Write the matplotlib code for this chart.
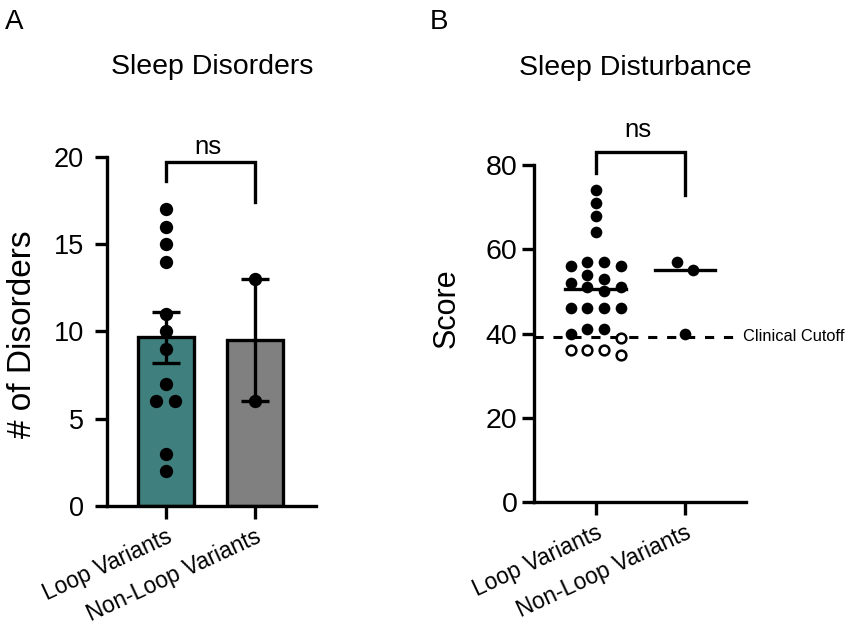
import numpy as np
import matplotlib
matplotlib.use("Agg")
import matplotlib.pyplot as plt

plt.rcParams['font.family'] = ['Liberation Sans', 'DejaVu Sans']

# data
groups = ["Loop Variants", "Non-Loop Variants"]
disorders_loop = [17, 16, 15, 14, 11, 10, 9, 7, 6, 6, 3, 2]
disorders_nonloop = [13, 6]
score_loop = [74, 71, 68, 64, 57, 57, 56, 56, 54, 53, 52, 51, 51, 50,
              46, 46, 46, 46, 41, 41, 40, 39, 36, 36, 36, 35]
score_nonloop = [57, 55, 40]
clinical_cutoff = 39.2

bar_colors = ["#3f807e", "#808080"]
LW = 2.4


def sem(v):
    v = np.asarray(v, float)
    return v.std(ddof=1) / np.sqrt(len(v))


def swarm(ax, vals, center, diam_px, col_px):
    # simple beeswarm in pixel space: lone points sit in the middle,
    # crowded ones go to columns either side
    fig = ax.figure
    bb = ax.get_position()
    w_px = bb.width * fig.get_figwidth() * fig.dpi
    h_px = bb.height * fig.get_figheight() * fig.dpi
    x0, x1 = ax.get_xlim()
    y0, y1 = ax.get_ylim()
    sx = w_px / (x1 - x0)
    sy = h_px / (y1 - y0)
    vals = np.asarray(vals, float)
    xs = np.zeros(len(vals))
    placed = []
    for i in np.argsort(-vals, kind="stable"):
        y = vals[i] * sy
        near = any(abs(vals[j] - vals[i]) * sy < diam_px
                   for j in range(len(vals)) if j != i)
        cands = ([] if near else [0.0]) + [-0.5, 0.5, -1.5, 1.5, -2.5, 2.5]
        for c in cands:
            x = c * col_px
            if all(np.hypot(x - px, y - py) >= diam_px for px, py in placed):
                break
        placed.append((x, y))
        xs[i] = center + x / sx
    return xs


def style_axes(ax, pad, fs):
    for s in ["top", "right"]:
        ax.spines[s].set_visible(False)
    for s in ["left", "bottom"]:
        ax.spines[s].set_linewidth(LW)
    ax.tick_params(axis="y", length=8.6, width=LW, pad=pad, labelsize=fs)
    ax.tick_params(axis="x", length=9, width=LW, pad=4.5)
    ax.set_xticks([0, 1])
    ax.set_xticklabels(groups, rotation=25, ha="right", va="top",
                       rotation_mode="anchor", fontsize=16.5)


def bracket(ax, y_top, y_left, y_right, y_text):
    ax.plot([0, 0, 1, 1], [y_left, y_top, y_top, y_right], color="black",
            lw=LW, clip_on=False, solid_joinstyle="miter")
    ax.text(0.47, y_text, "ns", ha="center", va="center", fontsize=18.5)


fig = plt.figure(figsize=(8.51, 6.28), dpi=100)

# ---- panel A ----
axA = fig.add_axes([0.1257, 0.1943, 0.2456, 0.5557])
axA.set_xlim(-0.657, 1.683)
axA.set_ylim(0, 20)
axA.set_yticks([0, 5, 10, 15, 20])
style_axes(axA, 8, 19.5)

dis = [disorders_loop, disorders_nonloop]
means = [np.mean(d) for d in dis]
errs = [sem(d) for d in dis]
axA.bar([0, 1], means, width=0.63, color=bar_colors, edgecolor="black",
        linewidth=LW, zorder=2)
for k, d in enumerate(dis):
    xs = swarm(axA, d, k, 13, 19.4)
    axA.plot(xs, d, "o", color="black", ms=9.6, mew=0, zorder=3,
             clip_on=False)
axA.errorbar([0, 1], means, yerr=errs, fmt="none", ecolor="black",
             elinewidth=LW, capsize=10.4, capthick=LW, zorder=4)
bracket(axA, 19.7, 18.6, 17.4, 20.6)

# ---- panel B ----
axB = fig.add_axes([0.6279, 0.2006, 0.2488, 0.5366])
axB.set_xlim(-0.687, 1.683)
axB.set_ylim(0, 80)
axB.set_yticks([0, 20, 40, 60, 80])
style_axes(axB, 3.5, 20.5)

for k, s in enumerate([score_loop, score_nonloop]):
    s = np.asarray(s, float)
    xs = swarm(axB, s, k, 11, 16.7)
    below = s < clinical_cutoff
    axB.plot(xs[~below], s[~below], "o", color="black", ms=8.4, mew=0,
             zorder=3)
    axB.plot(xs[below], s[below], "o", mfc="white", mec="black", ms=7.0,
             mew=1.8, zorder=3)
    med = np.median(s)
    axB.plot([k - 0.34, k + 0.34], [med, med], color="black", lw=LW,
             zorder=4)

axB.plot([-0.687, 1.58], [clinical_cutoff] * 2, color="black", lw=2.2,
         dashes=(3, 3.2), zorder=2, clip_on=False)
axB.text(1.65, clinical_cutoff, "Clinical Cutoff", ha="left", va="center",
         fontsize=11.8)
bracket(axB, 83, 78.2, 73, 88.3)

# titles, y labels, panel letters
fig.text(0.249, 0.8933, "Sleep Disorders", ha="center", va="center",
         fontsize=20.5)
fig.text(0.746, 0.8917, "Sleep Disturbance", ha="center", va="center",
         fontsize=20.5)
fig.text(0.0259, 0.468, "# of Disorders", rotation=90, ha="center",
         va="center", fontsize=24)
fig.text(0.5253, 0.5096, "Score", rotation=90, ha="center", va="center",
         fontsize=22)
fig.text(0.006, 0.985, "A", ha="left", va="top", fontsize=20)
fig.text(0.505, 0.985, "B", ha="left", va="top", fontsize=20)

fig.savefig("out.png", dpi=100)
